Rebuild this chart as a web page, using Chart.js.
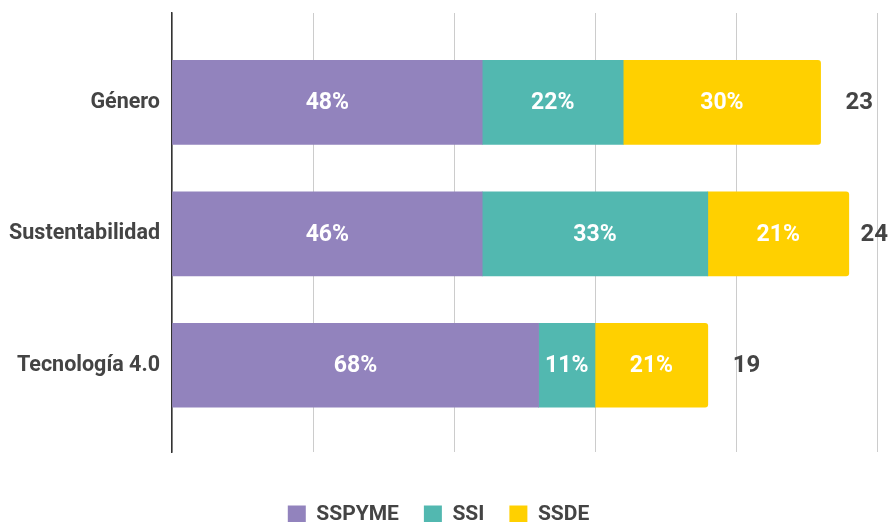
<!DOCTYPE html>
<html>
<head>
<meta charset="utf-8">
<script src="https://cdn.jsdelivr.net/npm/chart.js@4"></script>
<style>
  html, body { margin: 0; padding: 0; background: #fff; overflow: hidden; }
  #wrap { position: relative; width: 889px; height: 535px; }
</style>
</head>
<body>
<div id="wrap"><canvas id="chart"></canvas></div>
<script>
// Datos (conteos por categoría)
const categories = ["Género", "Sustentabilidad", "Tecnología 4.0"];
const sspyme = [11, 11, 13];
const ssi = [5, 8, 2];
const ssde = [7, 5, 4];
const seriesNames = ["SSPYME", "SSI", "SSDE"];
const seriesColors = ["#9283BD", "#52B8B0", "#FFD000"];
const xTicks = [0, 5, 10, 15, 20, 25];

const totals = categories.map((c, i) => sspyme[i] + ssi[i] + ssde[i]);
const font = { family: "Roboto", size: 21, weight: "bold" };

const toPoints = arr => arr.map((v, i) => ({ x: v, y: i }));

// etiquetas de porcentaje y totales
const labelPlugin = {
    id: "labels",
    afterDatasetsDraw(chart) {
        const ctx = chart.ctx;
        ctx.save();
        ctx.textBaseline = "middle";
        ctx.font = "bold 23px Roboto";
        chart.data.datasets.forEach((ds, di) => {
            const meta = chart.getDatasetMeta(di);
            meta.data.forEach((bar, i) => {
                const pct = Math.round(ds.data[i].x / totals[i] * 100);
                ctx.fillStyle = "#ffffff";
                ctx.textAlign = "center";
                ctx.fillText(pct + "%", (bar.x + bar.base) / 2, bar.y + 1);
            });
        });
        ctx.font = "bold 24px Roboto";
        const last = chart.getDatasetMeta(chart.data.datasets.length - 1);
        last.data.forEach((bar, i) => {
            const txt = String(totals[i]);
            const w = ctx.measureText(txt).width;
            let x = bar.x + 25;
            if (x + w > chart.width - 1) x = chart.width - 1 - w;
            ctx.fillStyle = "#444444";
            ctx.textAlign = "left";
            ctx.fillText(txt, x, bar.y + 1);
        });
        ctx.restore();
    }
};

const datasets = [sspyme, ssi, ssde].map((arr, k) => ({
    label: seriesNames[k],
    data: toPoints(arr),
    backgroundColor: seriesColors[k],
    barThickness: 84,
    borderRadius: k === 2 ? 3 : 0,
    borderSkipped: k === 2 ? "start" : true
}));

new Chart(document.getElementById("chart"), {
    type: "bar",
    data: { datasets: datasets },
    options: {
        indexAxis: "y",
        responsive: true,
        maintainAspectRatio: false,
        animation: false,
        layout: { padding: { top: 13, right: 12, left: 0, bottom: 0 } },
        scales: {
            x: {
                type: "linear",
                stacked: true,
                min: xTicks[0],
                max: xTicks[xTicks.length - 1],
                afterBuildTicks: s => { s.ticks = xTicks.map(v => ({ value: v })); },
                afterFit: s => { s.height = 27; s.paddingLeft = 0; s.paddingRight = 0; },
                ticks: { display: false },
                grid: { color: "#cccccc", lineWidth: 1, drawTicks: false },
                border: { display: false }
            },
            y: {
                type: "linear",
                stacked: true,
                reverse: true,
                offset: false,
                min: -0.68,
                max: 2.66,
                afterBuildTicks: s => { s.ticks = categories.map((c, i) => ({ value: i })); },
                afterFit: s => { s.width = 172; s.paddingTop = 0; s.paddingBottom = 0; },
                ticks: {
                    callback: v => categories[v],
                    font: { family: "Roboto", size: 21.5, weight: "bold" },
                    color: "#444444",
                    padding: 12
                },
                grid: { display: false, drawTicks: false, offset: false },
                border: { display: true, color: "#333333", width: 1.5 }
            }
        },
        plugins: {
            legend: {
                position: "bottom",
                labels: {
                    font: font,
                    color: "#444444",
                    boxWidth: 18,
                    boxHeight: 18,
                    padding: 25
                }
            },
            tooltip: { enabled: false }
        }
    },
    plugins: [labelPlugin]
});
</script>
</body>
</html>
